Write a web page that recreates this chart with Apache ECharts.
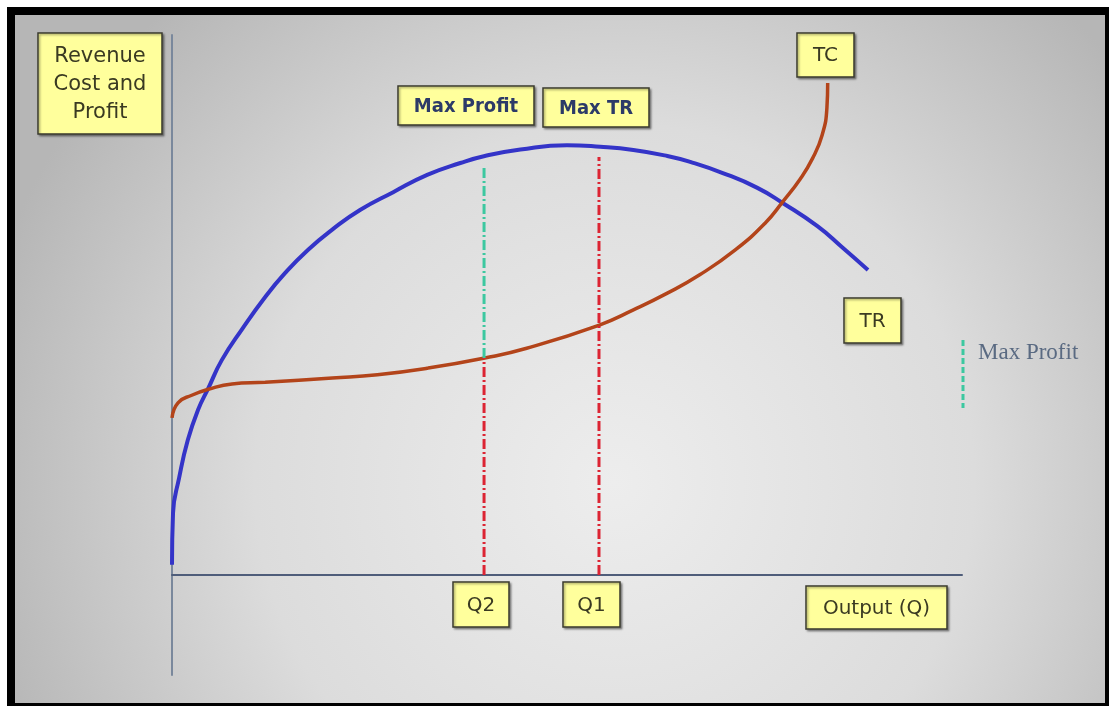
<!DOCTYPE html>
<html>
<head>
<meta charset="utf-8">
<script src="https://cdn.jsdelivr.net/npm/echarts@6/dist/echarts.min.js"></script>
<style>
  html, body { margin: 0; padding: 0; background: #fff; }
  #chart { width: 1109px; height: 706px; }
</style>
</head>
<body>
<div id="chart"></div>
<script>
// TR curve (output, revenue)
const trX = [0, 0.13, 0.9, 2.0, 3.3, 4.6, 6.3, 8.9, 11.8, 14.3, 17.2, 20.4, 23.8, 28.0, 32.3, 36.5, 39.6, 44.1, 50.0, 54.2, 58.4, 62.7, 65.6, 69.8, 74.1, 77.3, 81.7, 84.9, 88.1];
const trY = [1.9, 11.5, 18.0, 25.0, 30.6, 34.6, 39.8, 45.6, 51.5, 55.9, 60.2, 64.1, 67.6, 70.9, 74.1, 76.3, 77.6, 78.8, 79.6, 79.3, 78.7, 77.6, 76.5, 74.4, 71.7, 68.9, 64.6, 60.6, 56.5];

// TC curve
const tcX = [0, 0.76, 2.5, 4.6, 7.6, 11.8, 20.3, 26.0, 32.3, 39.6, 44.9, 54.1, 58.4, 62.7, 66.8, 71.3, 75.1, 77.3, 79.5, 81.1, 82.3, 82.9, 83.0];
const tcY = [29.1, 31.9, 33.3, 34.4, 35.4, 35.7, 36.5, 37.1, 38.3, 40.2, 42.0, 46.3, 49.1, 52.2, 55.6, 60.2, 65.2, 69.1, 73.3, 77.2, 81.5, 86.5, 91.1];

// output levels and the heights where their guide lines end
const qNames = ['Q2', 'Q1'];
const qPos = [39.5, 54.05];
const q2Levels = [0, 40.2, 75.9]; // axis -> TC -> TR (profit gap)
const q1Levels = [0, 77.4];

const chart = echarts.init(document.getElementById('chart'));

const pairs = (xs, ys) => xs.map((x, i) => [x, ys[i]]);
const dashDot = [10, 3, 2, 3];

// yellow label box
function box(x, y, w, h, text, opt) {
  opt = opt || {};
  return {
    type: 'group',
    x: x, y: y, z: 100,
    children: [
      {
        type: 'rect',
        shape: { x: 0, y: 0, width: w, height: h },
        style: {
          fill: '#ffff9c', stroke: '#3a3a2e', lineWidth: 1.5,
          shadowBlur: 2, shadowOffsetX: 1.5, shadowOffsetY: 1.5, shadowColor: 'rgba(0,0,0,0.35)'
        }
      },
      {
        type: 'text',
        style: {
          text: text, x: w / 2, y: h / 2 + 1,
          align: 'center', verticalAlign: 'middle',
          fontFamily: opt.font || '"DejaVu Sans", sans-serif',
          fontSize: opt.size || 20,
          fontWeight: opt.weight || 'normal',
          lineHeight: opt.lh || 24,
          fill: opt.color || '#3a3a22'
        }
      }
    ]
  };
}

const maxStyle = { font: '"DejaVu Sans Condensed", "DejaVu Sans", sans-serif', size: 20, weight: 'bold', color: '#2c3a68' };

const option = {
  animation: false,
  backgroundColor: '#fff',
  grid: { left: 172, right: 147, top: 35, bottom: 31 },
  xAxis: {
    type: 'value', min: 0, max: 100,
    axisLine: { onZero: true, lineStyle: { color: '#4f5d7a', width: 2 } },
    axisTick: { show: false }, axisLabel: { show: false }, splitLine: { show: false }
  },
  yAxis: {
    type: 'value', min: -18.5, max: 100,
    axisLine: { show: true, lineStyle: { color: '#7a889c', width: 2 } },
    axisTick: { show: false }, axisLabel: { show: false }, splitLine: { show: false }
  },
  graphic: [
    { type: 'rect', z: -20, shape: { x: 7, y: 7, width: 1102, height: 699 }, style: { fill: '#000' } },
    {
      type: 'rect', z: -19, shape: { x: 15, y: 15, width: 1090, height: 688 },
      style: {
        fill: new echarts.graphic.RadialGradient(0.55, 0.68, 0.95, [
          { offset: 0, color: '#ededed' },
          { offset: 0.55, color: '#dcdcdc' },
          { offset: 1, color: '#b6b6b6' }
        ])
      }
    },
    box(38, 33, 124, 101, 'Revenue\nCost and\nProfit', { lh: 28, size: 21 }),
    box(398, 86, 136, 39, 'Max Profit', maxStyle),
    box(543, 88, 106, 39, 'Max TR', maxStyle),
    box(797, 33, 57, 44, 'TC'),
    box(844, 298, 57, 45, 'TR'),
    box(453, 582, 56, 45, qNames[0]),
    box(563, 582, 57, 45, qNames[1]),
    box(806, 586, 141, 43, 'Output (Q)'),
    // small key on the right
    {
      type: 'line', z: 100,
      shape: { x1: 963, y1: 340, x2: 963, y2: 408 },
      style: { stroke: '#3cc8a0', lineWidth: 3, lineDash: [6, 3] }
    },
    {
      type: 'text', z: 100,
      style: {
        text: 'Max Profit', x: 978, y: 353, verticalAlign: 'middle',
        fontFamily: '"Liberation Serif", "DejaVu Serif", serif', fontSize: 23, fill: '#5a6a82'
      }
    }
  ],
  series: [
    {
      name: 'TR', type: 'line', data: pairs(trX, trY),
      smooth: 0.5, showSymbol: false, z: 3,
      lineStyle: { color: '#3434c8', width: 4 }
    },
    {
      name: 'TC', type: 'line', data: pairs(tcX, tcY),
      smooth: 0.5, showSymbol: false, z: 3,
      lineStyle: { color: '#b3441a', width: 3.5 }
    },
    {
      name: 'Q2 cost', type: 'line', showSymbol: false, z: 4,
      data: [[qPos[0], q2Levels[0]], [qPos[0], q2Levels[1]]],
      lineStyle: { color: '#dc2433', width: 3, type: dashDot }
    },
    {
      name: 'Max Profit', type: 'line', showSymbol: false, z: 4,
      data: [[qPos[0], q2Levels[1]], [qPos[0], q2Levels[2]]],
      lineStyle: { color: '#3cc8a0', width: 3, type: dashDot }
    },
    {
      name: 'Max TR', type: 'line', showSymbol: false, z: 4,
      data: [[qPos[1], q1Levels[0]], [qPos[1], q1Levels[1]]],
      lineStyle: { color: '#dc2433', width: 3, type: dashDot }
    }
  ]
};

chart.setOption(option);
</script>
</body>
</html>
